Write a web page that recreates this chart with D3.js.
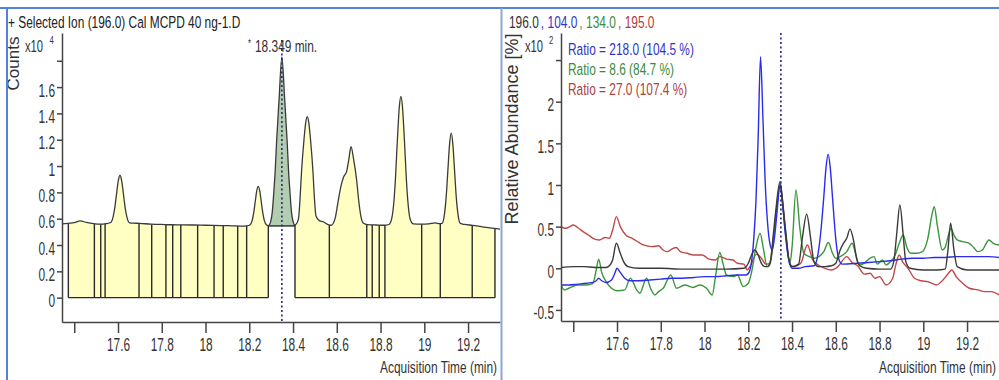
<!DOCTYPE html>
<html>
<head>
<meta charset="utf-8">
<script src="https://cdn.jsdelivr.net/npm/d3@7"></script>
<style>
  body { margin: 0; background: #fff; }
  svg { display: block; font-family: 'Liberation Sans', Arial, sans-serif; }
</style>
</head>
<body>
<svg id="chart" width="999" height="380"></svg>
<script>
// ---- data ----
const timeTicks = [17.4, 17.6, 17.8, 18, 18.2, 18.4, 18.6, 18.8, 19, 19.2];
const timeLabels = ['', '17.6', '17.8', '18', '18.2', '18.4', '18.6', '18.8', '19', '19.2'];
const countTicks = [0, 0.2, 0.4, 0.6, 0.8, 1, 1.2, 1.4, 1.6, 1.8];
const countLabels = ['0', '0.2', '0.4', '0.6', '0.8', '1', '1.2', '1.4', '1.6', ''];
const abundTicks = [-0.5, 0, 0.5, 1, 1.5, 2, 2.5];
const abundLabels = ['-0.5', '0', '0.5', '1', '1.5', '2', ''];

const ions = ['196.0', '104.0', '134.0', '195.0'];
const ratioLabels = ['Ratio = 218.0 (104.5 %)', 'Ratio = 8.6 (84.7 %)', 'Ratio = 27.0 (107.4 %)'];
const markerTime = 18.349;

// integration segments of the TIC (yellow) and the selected peak (green)
const segments = [[17.373, 18.287], [18.409, 19.323]];
const cutTimes = [17.373, 17.492, 17.521, 17.541, 17.696, 17.754, 17.819, 17.850, 17.887, 17.964,
  18.039, 18.081, 18.147, 18.188, 18.287, 18.409, 18.566, 18.737, 18.762, 18.794, 18.820,
  18.988, 19.073, 19.219, 19.323];
const peakWindow = [18.287, 18.409];
const peakBase = 0.545;

// left: counts x10^4 of ion 196.0  [time, value]
const counts196 = [[17.344,0.56],[17.373,0.565],[17.40,0.57],[17.427,0.583],[17.455,0.572],[17.488,0.562],
  [17.52,0.558],[17.545,0.562],[17.567,0.571],[17.577,0.61],[17.585,0.68],[17.593,0.785],[17.601,0.886],
  [17.609,0.93],[17.617,0.886],[17.625,0.785],[17.633,0.68],[17.641,0.61],[17.651,0.571],[17.67,0.566],
  [17.70,0.565],[17.75,0.558],[17.794,0.557],[17.84,0.554],[17.89,0.553],[17.947,0.552],[18.00,0.55],
  [18.07,0.548],[18.12,0.546],[18.161,0.544],[18.19,0.546],[18.204,0.554],[18.213,0.585],[18.22,0.642],
  [18.227,0.727],[18.234,0.81],[18.241,0.845],[18.248,0.81],[18.255,0.727],[18.262,0.642],[18.269,0.585],
  [18.278,0.554],[18.287,0.548],[18.298,0.58],[18.305,0.65],[18.312,0.80],[18.318,0.95],[18.325,1.19],
  [18.336,1.50],[18.349,1.83],[18.362,1.50],[18.373,1.19],[18.38,0.95],[18.386,0.80],[18.393,0.65],
  [18.40,0.58],[18.409,0.552],[18.417,0.565],[18.425,0.60],[18.432,0.75],[18.439,0.96],[18.45,1.20],
  [18.458,1.33],[18.465,1.375],[18.472,1.33],[18.48,1.20],[18.491,0.96],[18.498,0.75],[18.505,0.62],
  [18.52,0.585],[18.54,0.575],[18.56,0.555],[18.575,0.55],[18.592,0.60],[18.605,0.72],[18.618,0.84],
  [18.632,0.92],[18.645,0.96],[18.655,1.05],[18.665,1.147],[18.677,1.05],[18.691,0.89],[18.70,0.74],
  [18.71,0.62],[18.722,0.565],[18.74,0.555],[18.78,0.552],[18.82,0.55],[18.84,0.558],[18.851,0.60],
  [18.862,0.75],[18.868,0.90],[18.877,1.20],[18.886,1.454],[18.893,1.53],[18.90,1.454],[18.909,1.20],
  [18.918,0.90],[18.924,0.75],[18.935,0.60],[18.95,0.56],[18.985,0.558],[19.02,0.56],[19.05,0.568],
  [19.07,0.562],[19.081,0.564],[19.091,0.622],[19.10,0.766],[19.108,0.975],[19.115,1.157],[19.123,1.25],
  [19.131,1.157],[19.138,0.975],[19.146,0.766],[19.155,0.622],[19.165,0.564],[19.185,0.556],[19.22,0.55],
  [19.26,0.54],[19.30,0.53],[19.346,0.52]];

// right: relative abundance x10^2 of the qualifier ions
const rel196 = [[17.344,0.01],[17.40,0.02],[17.45,0.02],[17.50,0.01],[17.55,0.01],[17.565,0.03],
  [17.58,0.10],[17.597,0.30],[17.615,0.18],[17.63,0.08],[17.65,0.02],[17.70,0.0],[17.80,0.0],
  [17.90,-0.01],[18.00,-0.01],[18.10,-0.01],[18.18,0.0],[18.20,0.06],[18.215,0.16],[18.23,0.22],
  [18.245,0.16],[18.26,0.06],[18.275,0.02],[18.29,0.02],[18.30,0.06],[18.315,0.42],[18.326,0.70],
  [18.345,1.04],[18.36,0.72],[18.372,0.42],[18.385,0.12],[18.40,0.02],[18.43,0.05],[18.447,0.36],
  [18.467,0.65],[18.485,0.36],[18.50,0.08],[18.52,0.02],[18.55,0.02],[18.58,0.03],[18.60,0.06],
  [18.62,0.22],[18.635,0.30],[18.65,0.36],[18.665,0.47],[18.68,0.35],[18.695,0.12],[18.71,0.03],
  [18.74,0.0],[18.80,-0.01],[18.85,-0.01],[18.865,0.08],[18.878,0.40],[18.893,0.76],[18.908,0.40],
  [18.92,0.08],[18.94,0.0],[19.00,-0.02],[19.06,-0.02],[19.10,-0.01],[19.112,0.20],[19.125,0.54],
  [19.14,0.22],[19.155,0.02],[19.20,-0.02],[19.346,-0.02]];

const rel104 = [[17.344,-0.20],[17.38,-0.20],[17.42,-0.19],[17.46,-0.18],[17.49,-0.17],[17.505,-0.15],
  [17.516,-0.12],[17.53,-0.15],[17.55,-0.17],[17.575,-0.14],[17.59,-0.06],[17.60,0.0],[17.615,-0.05],
  [17.635,-0.12],[17.66,-0.15],[17.70,-0.15],[17.75,-0.14],[17.80,-0.13],[17.85,-0.12],[17.90,-0.12],
  [17.95,-0.11],[18.00,-0.10],[18.05,-0.10],[18.10,-0.09],[18.15,-0.08],[18.19,-0.08],[18.205,-0.04],
  [18.215,0.08],[18.225,0.35],[18.235,0.80],[18.245,1.55],[18.256,2.54],[18.267,1.80],[18.277,1.05],
  [18.288,0.55],[18.30,0.28],[18.31,0.22],[18.322,0.42],[18.333,0.72],[18.345,1.00],[18.358,0.74],
  [18.37,0.40],[18.385,0.10],[18.40,0.0],[18.43,0.0],[18.46,0.02],[18.50,0.03],[18.515,0.12],
  [18.53,0.40],[18.545,0.85],[18.555,1.20],[18.565,1.37],[18.575,1.20],[18.585,0.85],[18.60,0.35],
  [18.615,0.10],[18.63,0.05],[18.70,0.06],[18.75,0.07],[18.80,0.08],[18.85,0.09],[18.90,0.11],
  [18.95,0.12],[19.00,0.12],[19.05,0.13],[19.10,0.13],[19.15,0.14],[19.20,0.14],[19.25,0.14],
  [19.30,0.14],[19.346,0.13]];

const rel134 = [[17.344,-0.20],[17.36,-0.26],[17.38,-0.24],[17.42,-0.20],[17.46,-0.20],[17.49,-0.18],
  [17.505,-0.02],[17.516,0.11],[17.53,-0.05],[17.55,-0.16],[17.575,-0.24],[17.60,-0.27],[17.635,-0.26],
  [17.661,-0.12],[17.69,-0.26],[17.704,-0.30],[17.735,-0.12],[17.755,-0.25],[17.773,-0.32],[17.79,-0.28],
  [17.811,-0.24],[17.846,-0.08],[17.872,-0.24],[17.91,-0.20],[17.948,-0.23],[17.979,-0.20],[18.009,-0.24],
  [18.035,-0.32],[18.05,-0.10],[18.07,0.19],[18.085,0.05],[18.10,-0.08],[18.131,-0.10],[18.15,-0.08],
  [18.177,-0.22],[18.20,-0.18],[18.215,-0.05],[18.235,0.25],[18.254,0.42],[18.27,0.22],[18.286,0.02],
  [18.30,0.08],[18.318,0.42],[18.345,0.98],[18.37,0.42],[18.39,0.06],[18.40,0.25],[18.418,0.94],
  [18.435,0.50],[18.454,0.18],[18.48,0.14],[18.50,0.12],[18.523,0.14],[18.545,0.20],[18.566,0.31],
  [18.585,0.18],[18.60,0.12],[18.62,0.14],[18.65,0.20],[18.675,0.30],[18.69,0.18],[18.706,0.04],
  [18.73,0.06],[18.755,0.12],[18.775,0.14],[18.79,0.05],[18.813,0.10],[18.83,0.04],[18.85,0.08],
  [18.87,0.15],[18.89,0.30],[18.908,0.40],[18.925,0.25],[18.943,0.18],[18.97,0.18],[18.996,0.20],
  [19.02,0.35],[19.04,0.65],[19.05,0.74],[19.065,0.50],[19.087,0.22],[19.10,0.25],[19.115,0.40],
  [19.126,0.48],[19.14,0.40],[19.155,0.34],[19.18,0.32],[19.21,0.30],[19.23,0.25],[19.248,0.20],
  [19.27,0.22],[19.30,0.34],[19.32,0.30],[19.346,0.28]];

const rel195 = [[17.344,0.50],[17.365,0.48],[17.385,0.50],[17.40,0.52],[17.42,0.49],[17.445,0.44],
  [17.47,0.40],[17.49,0.36],[17.52,0.34],[17.545,0.37],[17.565,0.36],[17.58,0.46],[17.597,0.62],
  [17.615,0.50],[17.64,0.40],[17.67,0.36],[17.70,0.31],[17.72,0.28],[17.76,0.26],[17.79,0.27],
  [17.81,0.22],[17.83,0.20],[17.85,0.23],[17.87,0.25],[17.89,0.20],[17.92,0.18],[17.95,0.16],
  [17.99,0.16],[18.02,0.11],[18.05,0.10],[18.07,0.14],[18.10,0.11],[18.13,0.10],[18.15,0.06],
  [18.18,0.05],[18.195,-0.02],[18.21,0.03],[18.238,0.17],[18.26,0.12],[18.28,0.05],[18.30,0.06],
  [18.318,0.42],[18.345,1.02],[18.37,0.45],[18.39,0.05],[18.41,0.02],[18.44,0.06],[18.47,0.28],
  [18.495,0.10],[18.52,0.04],[18.55,0.00],[18.58,-0.02],[18.61,0.02],[18.65,0.14],[18.675,0.07],
  [18.70,0.03],[18.73,-0.07],[18.757,-0.06],[18.78,-0.12],[18.80,-0.10],[18.83,-0.20],[18.86,-0.12],
  [18.875,0.05],[18.89,0.16],[18.905,0.08],[18.93,0.0],[18.96,-0.12],[18.99,-0.15],[19.02,-0.16],
  [19.06,-0.20],[19.09,-0.14],[19.115,-0.06],[19.13,-0.02],[19.15,-0.10],[19.18,-0.18],[19.21,-0.24],
  [19.25,-0.26],[19.28,-0.28],[19.31,-0.28],[19.346,-0.32]];

// ---- styles ----
const K = 0.7;           // horizontal squeeze to mimic the condensed font
const KT = 0.66;         // same for tick labels
const axisColor = '#454545';
const textColor = '#333';
const ionColors = ['#3a3a3a', '#2b2bf0', '#3a963a', '#c04848'];
const headerColors = ['#333', '#3333c8', '#3c8c3c', '#b04040'];

const svg = d3.select('#chart');

function valueAt(series, t) {
  const i = d3.bisector(d => d[0]).left(series, t);
  if (i <= 0) return series[0][1];
  if (i >= series.length) return series[series.length - 1][1];
  const a = series[i - 1], b = series[i];
  return a[1] + (b[1] - a[1]) * (t - a[0]) / (b[0] - a[0]);
}

function styleAxis(g, fontSize) {
  g.select('.domain').attr('stroke', axisColor).attr('stroke-width', 1.5);
  g.selectAll('.tick line').attr('stroke', axisColor).attr('stroke-width', 1.5);
  g.selectAll('.tick text')
    .attr('fill', textColor)
    .attr('font-size', fontSize)
    .attr('font-family', "'Liberation Sans', Arial, sans-serif")
    .attr('x', function () { return (+this.getAttribute('x') || 0) / KT; })
    .attr('transform', `scale(${KT},1)`);
}

// condensed text: drawn squeezed horizontally around its anchor point
function addText(x, y, str, size, color, anchor) {
  return svg.append('text')
    .attr('transform', `translate(${x},${y}) scale(${K},1)`)
    .attr('font-size', size)
    .attr('fill', color || textColor)
    .attr('text-anchor', anchor || 'start')
    .text(str);
}

const width = t => t.node().getComputedTextLength() * K;

const defs = svg.append('defs');

// ---- left panel: counts of 196.0 with integration ----
const xL = d3.scaleLinear().domain([17.344, 19.346]).range([62, 500]);
const yL = d3.scaleLinear().domain([-0.185, 2.011]).range([322, 33]);

const clipYellow = defs.append('clipPath').attr('id', 'clip-yellow');
segments.forEach(s => {
  clipYellow.append('rect')
    .attr('x', xL(s[0])).attr('width', xL(s[1]) - xL(s[0]))
    .attr('y', 0).attr('height', 380);
});
defs.append('clipPath').attr('id', 'clip-peak').append('rect')
  .attr('x', xL(peakWindow[0])).attr('width', xL(peakWindow[1]) - xL(peakWindow[0]))
  .attr('y', 0).attr('height', 380);
defs.append('clipPath').attr('id', 'clip-left').append('rect')
  .attr('x', 62).attr('y', 33).attr('width', 438).attr('height', 289);
defs.append('clipPath').attr('id', 'clip-right').append('rect')
  .attr('x', 561).attr('y', 33).attr('width', 438).attr('height', 288);

const curve = d3.curveMonotoneX;

svg.append('path')
  .datum(counts196)
  .attr('clip-path', 'url(#clip-yellow)')
  .attr('fill', '#ffffc4')
  .attr('d', d3.area().curve(curve).x(d => xL(d[0])).y0(yL(0)).y1(d => yL(d[1])));

svg.append('path')
  .datum(counts196)
  .attr('clip-path', 'url(#clip-peak)')
  .attr('fill', '#b3cdb0')
  .attr('d', d3.area().curve(curve).x(d => xL(d[0])).y0(yL(peakBase)).y1(d => yL(d[1])));

const seg = svg.append('g').attr('stroke', '#2a2a2a').attr('stroke-width', 1.4);
seg.selectAll('.cut')
  .data(cutTimes)
  .enter().append('line')
  .attr('x1', d => xL(d)).attr('x2', d => xL(d))
  .attr('y1', yL(0)).attr('y2', d => yL(valueAt(counts196, d)));
seg.selectAll('.floor')
  .data(segments)
  .enter().append('line')
  .attr('x1', d => xL(d[0])).attr('x2', d => xL(d[1]))
  .attr('y1', yL(0)).attr('y2', yL(0));
seg.append('line')
  .attr('x1', xL(peakWindow[0])).attr('x2', xL(peakWindow[1]))
  .attr('y1', yL(peakBase)).attr('y2', yL(peakBase));

svg.append('path')
  .datum(counts196)
  .attr('clip-path', 'url(#clip-left)')
  .attr('fill', 'none')
  .attr('stroke', '#3a3a3a')
  .attr('stroke-width', 1.3)
  .attr('d', d3.line().curve(curve).x(d => xL(d[0])).y(d => yL(d[1])));

svg.append('line')
  .attr('x1', xL(markerTime)).attr('x2', xL(markerTime))
  .attr('y1', 40).attr('y2', 322)
  .attr('stroke', '#26267e').attr('stroke-width', 1.6).attr('stroke-dasharray', '2,2.5');

svg.append('g')
  .attr('transform', 'translate(62,0)')
  .call(d3.axisLeft(yL).tickValues(countTicks).tickFormat((d, i) => countLabels[i])
    .tickSize(5).tickPadding(2).tickSizeOuter(0))
  .call(g => g.selectAll('.tick text').attr('dy', '0.5em'))
  .call(styleAxis, 18);

svg.append('g')
  .attr('transform', 'translate(0,322)')
  .call(d3.axisBottom(xL).tickValues(timeTicks).tickFormat((d, i) => timeLabels[i])
    .tickSize(11).tickPadding(5).tickSizeOuter(0))
  .call(styleAxis, 18);

addText(8, 27.5, '+ Selected Ion (196.0) Cal MCPD 40 ng-1.D', 17, '#222');
addText(25, 51.5, 'x10', 16);
addText(49.5, 43.5, '4', 11);
addText(248, 47, '*', 11);
addText(255, 51.5, markerTime + ' min.', 17);
addText(497, 372.5, 'Acquisition Time (min)', 17, textColor, 'end');
svg.append('text')
  .attr('transform', 'translate(18.5,63.5) rotate(-90)')
  .attr('text-anchor', 'middle')
  .attr('font-size', 17)
  .attr('fill', textColor)
  .text('Counts');

// ---- right panel: qualifier ions, relative abundance ----
const xR = d3.scaleLinear().domain([17.344, 19.346]).range([561, 999]);
const yR = d3.scaleLinear().domain([-0.633, 2.825]).range([321, 33]);

const lineR = d3.line().curve(curve).x(d => xR(d[0])).y(d => yR(d[1]));
const traces = [rel195, rel134, rel104, rel196];
const traceColors = [ionColors[3], ionColors[2], ionColors[1], ionColors[0]];

svg.append('g')
  .attr('clip-path', 'url(#clip-right)')
  .selectAll('path')
  .data(traces)
  .enter().append('path')
  .attr('fill', 'none')
  .attr('stroke', (d, i) => traceColors[i])
  .attr('stroke-width', 1.4)
  .attr('d', lineR);

svg.append('line')
  .attr('x1', xR(markerTime)).attr('x2', xR(markerTime))
  .attr('y1', 33).attr('y2', 321)
  .attr('stroke', '#26267e').attr('stroke-width', 1.6).attr('stroke-dasharray', '2,2.5');

svg.append('g')
  .attr('transform', 'translate(561,0)')
  .call(d3.axisLeft(yR).tickValues(abundTicks).tickFormat((d, i) => abundLabels[i])
    .tickSize(5).tickPadding(2).tickSizeOuter(0))
  .call(g => g.selectAll('.tick text').attr('dy', '0.5em'))
  .call(styleAxis, 18);

svg.append('g')
  .attr('transform', 'translate(0,321)')
  .call(d3.axisBottom(xR).tickValues(timeTicks).tickFormat((d, i) => timeLabels[i])
    .tickSize(11).tickPadding(5).tickSizeOuter(0))
  .call(styleAxis, 18);

// header: ion list, each in its own colour, laid out one after another
let hx = 509;
ions.forEach((ion, i) => {
  if (i > 0) {
    const c = addText(hx + 2, 28, ',', 17, headerColors[i]);
    hx += 2 + width(c) + 3.5;
  }
  const t = addText(hx, 28, ion, 17, headerColors[i]);
  hx += width(t);
});

addText(525, 51.5, 'x10', 16);
addText(549, 43.5, '2', 11);

ratioLabels.forEach((r, i) => {
  addText(568, 55 + i * 19.75, r, 17, headerColors[i + 1]);
});

addText(996, 372.5, 'Acquisition Time (min)', 17, textColor, 'end');
svg.append('text')
  .attr('transform', 'translate(517.5,129) rotate(-90)')
  .attr('text-anchor', 'middle')
  .attr('font-size', 18)
  .attr('fill', textColor)
  .text('Relative Abundance [%]');

// ---- window frame ----
const frame = svg.append('g').attr('fill', 'none');
frame.append('line').attr('x1', 0).attr('x2', 999).attr('y1', 8).attr('y2', 8)
  .attr('stroke', '#5383d6').attr('stroke-width', 2);
frame.append('line').attr('x1', 7).attr('x2', 7).attr('y1', 8).attr('y2', 380)
  .attr('stroke', '#5383d6').attr('stroke-width', 2);
frame.append('line').attr('x1', 501.5).attr('x2', 501.5).attr('y1', 8).attr('y2', 380)
  .attr('stroke', '#8ea6d2').attr('stroke-width', 2);
</script>
</body>
</html>
